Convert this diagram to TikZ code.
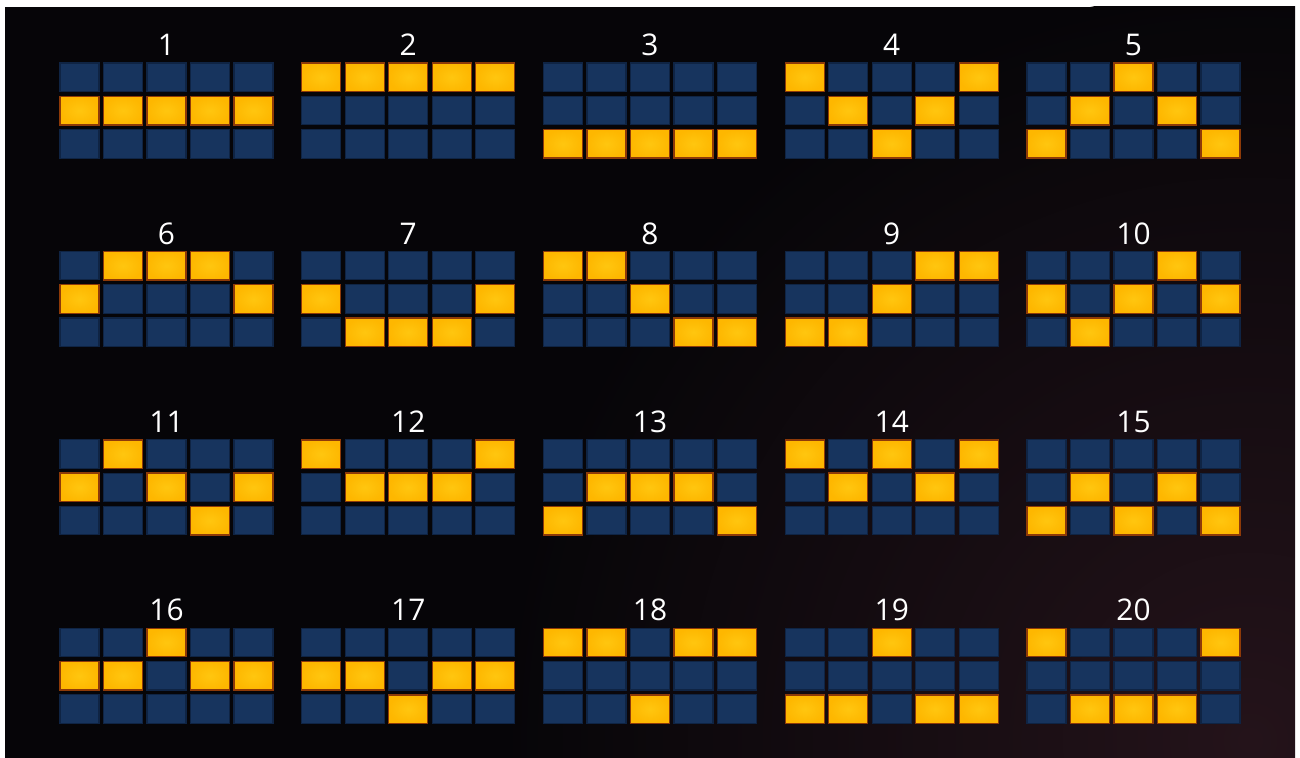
\documentclass[tikz,border=0pt]{standalone}
\usepackage{fontspec}
\setsansfont{Open Sans}
\definecolor{bgdark}{HTML}{060508}
\definecolor{bgwarm}{HTML}{24131A}
\definecolor{lineblue}{HTML}{17345E}
\definecolor{blueedge}{HTML}{0F2444}
\definecolor{lineyellow}{HTML}{FFC60F}
\definecolor{yellowout}{HTML}{FEB700}
\definecolor{lineedge}{HTML}{8E3A08}

\tikzset{
  cell/.style={fill=lineblue, draw=blueedge, line width=0.6pt},
  hit/.style={inner color=lineyellow, outer color=yellowout},
  hitedge/.style={draw=lineedge, line width=0.8pt},
  lbl/.style={text=white, font=\sffamily\fontsize{17}{20}\selectfont}
}

\begin{document}
\begin{tikzpicture}[x=0.02cm,y=-0.02cm]
\useasboundingbox (0,0) rectangle (1300,757);
\fill[white] (-10,-10) rectangle (1310,780);
\begin{scope}
  \clip (5,7) rectangle (1295,780);
  \fill[bgdark] (5,7) rectangle (1295,780);
  \shade[inner color=bgwarm, outer color=bgdark] (1250,740) circle[radius=750];
\end{scope}

% one line per panel: winning row for each of the 5 reels
\foreach \pa/\pb/\pc/\pd/\pe [count=\k from 0] in
  {1/1/1/1/1, 0/0/0/0/0, 2/2/2/2/2, 0/1/2/1/0, 2/1/0/1/2,
   1/0/0/0/1, 1/2/2/2/1, 0/0/1/2/2, 2/2/1/0/0, 1/2/1/0/1,
   1/0/1/2/1, 0/1/1/1/0, 2/1/1/1/2, 0/1/0/1/0, 2/1/2/1/2,
   1/1/0/1/1, 1/1/2/1/1, 0/0/2/0/0, 2/2/0/2/2, 0/2/2/2/0}{
  \pgfmathsetmacro\gx{60+mod(\k,5)*241.75}
  \pgfmathsetmacro\gy{63+floor(\k/5)*188.4}
  \pgfmathtruncatemacro\num{\k+1}
  \node[lbl] (lab\num) at (\gx+106.5,\gy-18) {\num};
  \foreach \r [count=\col from 0] in {\pa,\pb,\pc,\pd,\pe}{
    \foreach \row in {0,1,2}{
      \ifnum\row=\r\relax
        \shade[hit] (\gx+\col*43.5,\gy+\row*33.3) rectangle +(39,28.5);
        \draw[hitedge] (\gx+\col*43.5,\gy+\row*33.3) rectangle +(39,28.5);
      \else
        \draw[cell] (\gx+\col*43.5,\gy+\row*33.3) rectangle +(39,28.5);
      \fi
    }
  }
}
\end{tikzpicture}
\end{document}
